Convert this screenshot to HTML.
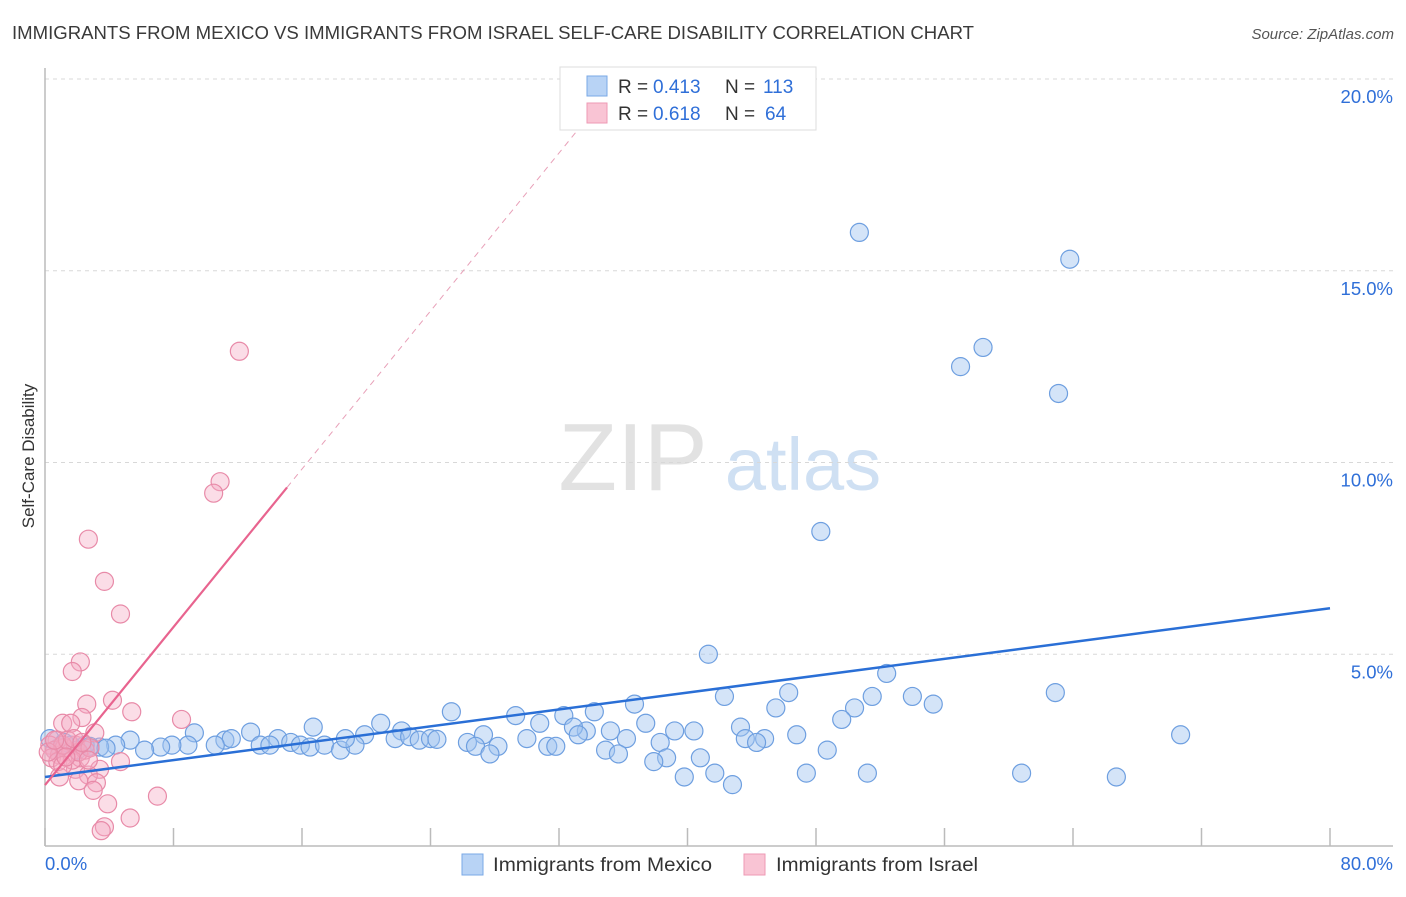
<!DOCTYPE html>
<html><head><meta charset="utf-8">
<style>
body{margin:0;background:#fff;font-family:"Liberation Sans",sans-serif;}
svg text{font-family:"Liberation Sans",sans-serif;}
</style></head>
<body>
<svg id="chart" width="1406" height="892" viewBox="0 0 1406 892" xmlns="http://www.w3.org/2000/svg">
<text x="12" y="39" font-size="18.5" fill="#3a3a3a" textLength="962" lengthAdjust="spacingAndGlyphs">IMMIGRANTS FROM MEXICO VS IMMIGRANTS FROM ISRAEL SELF-CARE DISABILITY CORRELATION CHART</text>
<text x="1394" y="39" font-size="15" fill="#555" text-anchor="end" font-style="italic">Source: ZipAtlas.com</text>
<g>
<text x="633" y="490" font-size="96" fill="#e2e2e2" text-anchor="middle" font-family="Liberation Serif, serif">ZIP</text>
<text x="803" y="490" font-size="74" fill="#cfe0f3" text-anchor="middle">atlas</text>
</g>
<g id="grid"></g>
<g id="axes"></g>
<g id="marks"></g>
<text transform="translate(34,456) rotate(-90)" font-size="17" fill="#333" text-anchor="middle">Self-Care Disability</text>
<g>
<rect x="560" y="67" width="256" height="63" fill="#fff" stroke="#ddd"/>
<rect x="587" y="76" width="20" height="20" fill="#b8d3f5" stroke="#7aa8e6"/>
<rect x="587" y="103" width="20" height="20" fill="#f9c4d4" stroke="#ee9ab4"/>
<text x="618" y="93" font-size="19" fill="#333">R =</text>
<text x="653" y="93" font-size="19" fill="#2f6fd8">0.413</text>
<text x="725" y="93" font-size="19" fill="#333">N =</text>
<text x="763" y="93" font-size="19" fill="#2f6fd8">113</text>
<text x="618" y="120" font-size="19" fill="#333">R =</text>
<text x="653" y="120" font-size="19" fill="#2f6fd8">0.618</text>
<text x="725" y="120" font-size="19" fill="#333">N =</text>
<text x="765" y="120" font-size="19" fill="#2f6fd8">64</text>
</g>
<g>
<rect x="462" y="854" width="21" height="21" fill="#b8d3f5" stroke="#7aa8e6"/>
<text x="493" y="871" font-size="19.5" fill="#333" textLength="219" lengthAdjust="spacingAndGlyphs">Immigrants from Mexico</text>
<rect x="744" y="854" width="21" height="21" fill="#f9c4d4" stroke="#ee9ab4"/>
<text x="776" y="871" font-size="19.5" fill="#333" textLength="202" lengthAdjust="spacingAndGlyphs">Immigrants from Israel</text>
</g>
</svg>
<script>
const xTicks=[0,8,16,24,32,40,48,56,64,72,80];
const yTickVals=[5,10,15,20];
const yTickLabels=["5.0%","10.0%","15.0%","20.0%"];
const xTickLabels=["0.0%","80.0%"];
const mexicoX=[50.7,63.8,58.4,57.0,63.1,48.3,41.3,52.4,46.3,42.3,51.5,54.0,62.9,55.3,50.4,45.5,49.6,36.7,34.2,25.3,29.3,32.3,43.3,46.8,70.7,37.4,35.2,39.2,40.4,30.8,16.7,20.9,22.2,27.3,19.9,33.7,32.9,30.0,43.6,44.8,44.3,36.2,33.2,38.3,34.9,31.3,31.8,26.3,26.8,28.2,27.7,35.7,48.7,40.8,38.7,37.9,39.8,41.7,42.8,47.4,51.2,60.8,66.7,14.5,12.8,11.2,11.6,10.6,9.3,8.9,7.9,7.2,6.2,5.3,4.4,3.4,2.5,1.6,0.9,0.6,13.4,14.0,15.3,15.9,16.5,17.4,18.4,19.3,18.7,21.8,22.7,23.3,24.0,24.4,0.3,1.2,2.0,2.8,3.8];
const mexicoY=[16.0,15.3,13.0,12.5,11.8,8.2,5.0,4.5,4.0,3.9,3.9,3.9,4.0,3.7,3.6,3.6,3.3,3.7,3.5,3.5,3.4,3.4,3.1,2.9,2.9,3.2,3.0,3.0,3.0,3.2,3.1,3.2,3.0,2.9,2.9,3.0,3.1,2.8,2.8,2.8,2.7,2.8,2.9,2.7,2.5,2.6,2.6,2.7,2.6,2.6,2.4,2.4,2.5,2.3,2.3,2.2,1.8,1.9,1.6,1.9,1.9,1.9,1.8,2.8,2.97,2.76,2.8,2.63,2.95,2.63,2.63,2.58,2.5,2.76,2.63,2.58,2.63,2.63,2.58,2.5,2.63,2.63,2.7,2.63,2.58,2.63,2.5,2.63,2.8,2.8,2.85,2.76,2.8,2.78,2.8,2.7,2.5,2.6,2.55];
const israelX=[12.1,10.9,10.5,2.7,3.7,4.7,2.2,1.7,4.2,2.6,5.4,8.5,2.3,1.1,1.6,3.1,0.75,4.7,3.4,1.9,2.7,3.2,2.1,3.0,0.9,3.9,7.0,5.3,3.7,3.5,0.3,0.6,0.9,1.2,1.6,1.9,2.2,2.5,0.4,0.8,1.1,1.4,1.7,2.1,0.2,2.8,1.1,1.3,0.6,1.8,2.3,2.7];
const israelY=[12.9,9.5,9.2,8.0,6.9,6.05,4.8,4.55,3.8,3.7,3.5,3.3,3.35,3.2,3.2,2.95,2.76,2.2,2.0,2.0,1.85,1.65,1.7,1.45,1.8,1.1,1.3,0.73,0.5,0.4,2.63,2.5,2.37,2.56,2.45,2.63,2.3,2.5,2.3,2.2,2.63,2.76,2.24,2.45,2.45,2.56,2.1,2.32,2.76,2.8,2.7,2.24];
const mexicoTrend=[1.8,6.2];
const israelTrend=[1.59,0.515];
const X0=45,X1=1330,Y0=846,PXY=38.35;
function sx(v){return X0+(X1-X0)*v/80;}
function sy(v){return Y0-v*PXY;}
const NS="http://www.w3.org/2000/svg";
function mk(tag,attrs,parent){const e=document.createElementNS(NS,tag);for(const k in attrs)e.setAttribute(k,attrs[k]);parent.appendChild(e);return e;}
const grid=document.getElementById('grid'),axes=document.getElementById('axes'),marks=document.getElementById('marks');
yTickVals.forEach((v,i)=>{
 const l=mk('line',{x1:X0,x2:1393,y1:sy(v),y2:sy(v),stroke:'#d8d8d8','stroke-dasharray':'4,4'},grid);
 
 
 const t=mk('text',{x:1393,y:sy(v)+24,'font-size':18.5,fill:'#2f6fd8','text-anchor':'end'},axes);
 t.textContent=yTickLabels[i];
 
 
});
const ya=mk('line',{x1:X0,x2:X0,y1:68,y2:Y0,stroke:'#bbb','stroke-width':1.5},axes);


const xa=mk('line',{x1:X0,x2:1393,y1:Y0,y2:Y0,stroke:'#bbb','stroke-width':1.5},axes);


xTicks.forEach(v=>{
 const t=mk('line',{x1:sx(v),x2:sx(v),y1:828,y2:Y0,stroke:'#bbb','stroke-width':1.5},axes);
 
 
});
[[0,'start',45],[80,'end',1393]].forEach((p,i)=>{
 const t=mk('text',{x:p[2],y:870,'font-size':18.5,fill:'#2f6fd8','text-anchor':p[1]},axes);
 t.textContent=xTickLabels[i];
 
 
});
mexicoX.forEach((x,i)=>{
 const c=mk('circle',{cx:sx(x),cy:sy(mexicoY[i]),r:9,fill:'rgba(160,196,240,0.45)',stroke:'#6e9fe0','stroke-width':1.2},marks);
 
 
});
israelX.forEach((x,i)=>{
 const c=mk('circle',{cx:sx(x),cy:sy(israelY[i]),r:9,fill:'rgba(245,170,195,0.4)',stroke:'#e88aa8','stroke-width':1.2},marks);
 
 
});
const bl=mk('line',{x1:sx(0),y1:sy(mexicoTrend[0]),x2:sx(80),y2:sy(mexicoTrend[1]),stroke:'#2a6fd6','stroke-width':2.5},marks);


const pEnd=15.07;
const pl=mk('line',{x1:sx(0),y1:sy(israelTrend[0]),x2:sx(pEnd),y2:sy(israelTrend[0]+israelTrend[1]*pEnd),stroke:'#e8648f','stroke-width':2.2},marks);


const xTop=(18.9-israelTrend[0])/israelTrend[1];
const pd=mk('line',{x1:sx(pEnd),y1:sy(israelTrend[0]+israelTrend[1]*pEnd),x2:sx(xTop),y2:sy(18.9),stroke:'#e8a0b8','stroke-width':1,'stroke-dasharray':'6,5'},marks);


</script>
</body></html>
